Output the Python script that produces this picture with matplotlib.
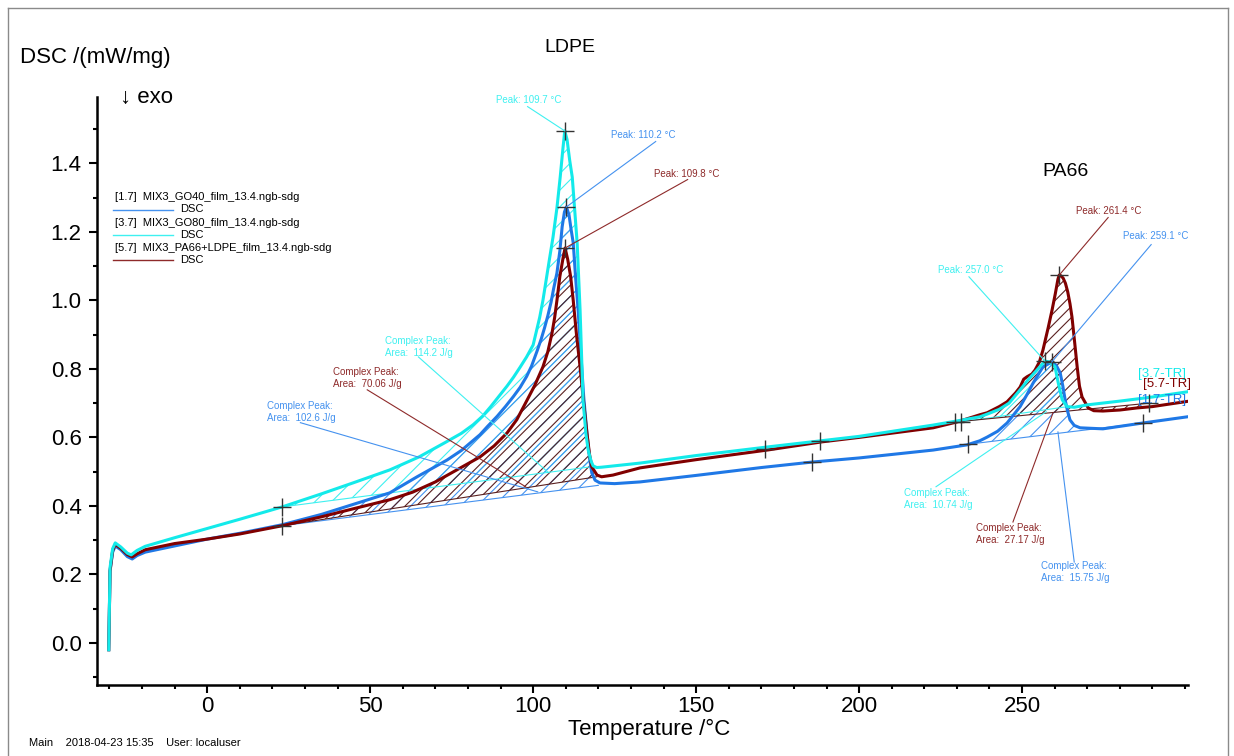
import numpy as np
import matplotlib.pyplot as plt
from matplotlib.lines import Line2D
from matplotlib.ticker import MultipleLocator

plt.rcParams['font.family'] = ['Liberation Sans', 'DejaVu Sans']
plt.rcParams['hatch.linewidth'] = 0.8

#%% data: temperature /°C and DSC /(mW/mg)
t_go40 = [-30.2, -29.8, -29.0, -28.2, -26.5, -24.5, -23.0, -21.5, -19.0, -10, 0, 10, 23, 35, 45, 56,
          64.4, 73.6, 78, 83.7, 86, 89, 91.5, 94, 96, 98, 99.5, 101.2, 102.5, 103.5, 104.5, 105.5,
          106.3, 107.3, 108.2, 108.9, 109.6, 110.2, 111, 111.6, 112.3, 113, 113.8, 114.6, 115.5,
          116.5, 117.3, 118, 119, 120.5, 125, 132.8, 150, 170, 185.6, 200, 222.7, 233, 237, 239.3,
          242.5, 245.4, 249.4, 251.5, 253.4, 256.4, 259.1, 260.5, 261.7, 262.5, 263.2, 264, 264.7,
          266, 267.8, 274.8, 287, 300.6]
dsc_go40 = [-0.02, 0.21, 0.265, 0.283, 0.272, 0.252, 0.245, 0.255, 0.265, 0.283, 0.303, 0.32, 0.345,
            0.375, 0.405, 0.438, 0.485, 0.534, 0.562, 0.608, 0.632, 0.662, 0.69, 0.72, 0.746, 0.778,
            0.808, 0.852, 0.888, 0.92, 0.955, 0.995, 1.035, 1.08, 1.145, 1.215, 1.258, 1.273, 1.25,
            1.21, 1.168, 1.07, 0.972, 0.85, 0.72, 0.613, 0.54, 0.496, 0.475, 0.467, 0.465, 0.47,
            0.489, 0.512, 0.528, 0.54, 0.563, 0.578, 0.59, 0.601, 0.618, 0.642, 0.69, 0.725, 0.759,
            0.806, 0.82, 0.81, 0.788, 0.75, 0.71, 0.675, 0.651, 0.635, 0.628, 0.625, 0.642, 0.66]

t_go80 = [-30.2, -29.8, -29.0, -28.2, -26.5, -24.5, -23.3, -21.5, -19.0, -10, 0, 10, 23, 35, 45, 56,
          65, 73, 78, 81.6, 84.5, 87, 89.5, 92, 94, 96, 98, 100, 101, 102, 103, 104, 105, 106.1,
          107.3, 108.3, 109.1, 109.7, 110.4, 111.2, 112, 113.5, 114.4, 115.3, 116.2, 116.9, 117.8,
          118.4, 119.5, 121, 132.8, 150, 171.8, 200, 222.7, 230, 237, 239.3, 243, 246, 249.4, 252,
          254.6, 257, 258.5, 260.1, 261.1, 262.3, 263.8, 266, 270, 280, 290, 300.6]
dsc_go80 = [-0.02, 0.22, 0.275, 0.292, 0.28, 0.262, 0.257, 0.27, 0.282, 0.307, 0.334, 0.361, 0.397,
            0.435, 0.468, 0.505, 0.543, 0.585, 0.612, 0.637, 0.662, 0.69, 0.72, 0.75, 0.776,
            0.805, 0.835, 0.87, 0.91, 0.95, 1.0, 1.06, 1.12, 1.185, 1.27, 1.36, 1.44, 1.495,
            1.47, 1.41, 1.36, 1.168, 0.972, 0.71, 0.61, 0.563, 0.53, 0.517, 0.512, 0.513, 0.525,
            0.547, 0.572, 0.603, 0.636, 0.648, 0.66, 0.668, 0.682, 0.70, 0.739, 0.77, 0.797, 0.823,
            0.82, 0.806, 0.759, 0.71, 0.69, 0.688, 0.695, 0.706, 0.718, 0.733]

t_mix = [-30.2, -29.8, -29.0, -28.2, -26.5, -24.5, -23.0, -21.5, -19.0, -10, 0, 10, 23, 35, 45, 56,
         63, 70, 76, 83.7, 88, 92, 95, 98.2, 100.5, 103, 104.5, 105.8, 106.6, 107.3, 108.2, 109.2,
         109.8, 110.6, 111.5, 112.3, 113.3, 114.4, 115.5, 116.5, 117.3, 118, 119.6, 121, 124.5,
         132.8, 150, 171.8, 188.6, 200, 222.7, 230, 237, 239.3, 243, 245.4, 248, 249.4, 250.5,
         251.5, 253, 254, 255.3, 256.4, 258, 259.2, 260.2, 261.0, 261.4, 261.9, 262.6, 263.3, 264,
         264.7, 265.3, 266.1, 266.9, 267.6, 268.4, 270.3, 272, 274.8, 280, 285.2, 290, 300.6]
dsc_mix = [-0.02, 0.21, 0.27, 0.288, 0.276, 0.258, 0.251, 0.26, 0.272, 0.29, 0.303, 0.318, 0.342,
           0.368, 0.392, 0.418, 0.44, 0.47, 0.502, 0.543, 0.575, 0.613, 0.652, 0.71, 0.752, 0.806,
           0.85, 0.905, 0.95, 1.0, 1.07, 1.125, 1.153, 1.12, 1.07, 1.0, 0.9, 0.806, 0.70, 0.613,
           0.55, 0.514, 0.49, 0.485, 0.49, 0.511, 0.535, 0.563, 0.587, 0.60, 0.628, 0.645, 0.666,
           0.672, 0.69, 0.704, 0.73, 0.747, 0.77, 0.777, 0.785, 0.797, 0.82, 0.855, 0.92, 0.972,
           1.02, 1.062, 1.074, 1.072, 1.065, 1.05, 1.025, 0.99, 0.952, 0.88, 0.806, 0.75, 0.718,
           0.686, 0.678, 0.677, 0.68, 0.686, 0.69, 0.705]

# integration limits (T1, DSC1, T2, DSC2) of the complex peaks
base_go40 = [(23, 0.342, 120.0, 0.46), (233.5, 0.58, 287, 0.642)]
base_go80 = [(23, 0.397, 118.4, 0.515), (231.2, 0.645, 264, 0.69)]
base_mix = [(23, 0.342, 119.5, 0.485), (229.5, 0.645, 289, 0.70)]

cross_t = [109.7, 110.2, 109.8, 257.0, 259.1, 261.4, 23, 23, 171.0, 188.0, 185.6, 229.5, 231.2, 233.5, 287, 289]
cross_v = [1.495, 1.273, 1.153, 0.823, 0.82, 1.074, 0.397, 0.342, 0.566, 0.59, 0.528, 0.645, 0.645, 0.58, 0.642, 0.70]

files = ['[1.7]  MIX3_GO40_film_13.4.ngb-sdg', '[3.7]  MIX3_GO80_film_13.4.ngb-sdg',
         '[5.7]  MIX3_PA66+LDPE_film_13.4.ngb-sdg']

c_blue, c_cyan, c_red = '#1f78e6', '#13eaea', '#800000'
l_blue, l_cyan, l_red = '#4592ef', '#3ff0f0', '#8e2a2a'

#%%
fig = plt.figure(figsize=(12.34, 7.56), dpi=100)
ax = fig.add_axes([97/1234, 71/756, 1091/1234, 588/756])


def hatch_area(t, v, lims, col, hatch):
    t = np.asarray(t)
    v = np.asarray(v)
    for t1, b1, t2, b2 in lims:
        m = (t > t1) & (t < t2)
        xs = np.concatenate([[t1], t[m], [t2]])
        ys = np.concatenate([[b1], v[m], [b2]])
        ax.fill(xs, ys, facecolor='none', edgecolor=col, hatch=hatch, linewidth=0)
        ax.plot([t1, t2], [b1, b2], color=col, lw=0.8)


hatch_area(t_go80, dsc_go80, base_go80, l_cyan, '//')
hatch_area(t_go40, dsc_go40, base_go40, l_blue, '//')
hatch_area(t_mix, dsc_mix, base_mix, '#5a2020', '///')

ax.plot(t_go40, dsc_go40, color=c_blue, lw=2.2)
ax.plot(t_mix, dsc_mix, color=c_red, lw=2.2)
ax.plot(t_go80, dsc_go80, color=c_cyan, lw=2.2)

ax.plot(cross_t, cross_v, '+', color='#333333', ms=13, mew=1)

# annotations: text position, leader start, leader end
peaks = [('Peak: 109.7 °C', 88.5, 1.586, 98.3, 1.566, 109.7, 1.495, l_cyan),
         ('Peak: 110.2 °C', 123.8, 1.484, 137.6, 1.464, 110.2, 1.273, l_blue),
         ('Peak: 109.8 °C', 137.0, 1.370, 147.4, 1.353, 109.8, 1.153, l_red),
         ('Peak: 261.4 °C', 266.6, 1.262, 276.4, 1.242, 261.4, 1.074, l_red),
         ('Peak: 259.1 °C', 281.0, 1.189, 289.6, 1.163, 259.1, 0.82, l_blue),
         ('Peak: 257.0 °C', 224.2, 1.090, 233.7, 1.069, 257.0, 0.823, l_cyan)]
areas = [('114.2', 54.7, 0.863, 64.8, 0.835, 104.7, 0.497, l_cyan),
         ('70.06', 38.7, 0.774, 49.1, 0.739, 97.7, 0.456, l_red),
         ('102.6', 18.4, 0.673, 28.6, 0.643, 101.4, 0.441, l_blue),
         ('10.74', 213.8, 0.420, 223.6, 0.456, 257.4, 0.675, l_cyan),
         ('27.17', 235.9, 0.318, 247.2, 0.353, 259.5, 0.672, l_red),
         ('15.75', 255.8, 0.207, 266.0, 0.236, 261.0, 0.616, l_blue)]
for s, tx, ty, x0, y0, x1, y1, col in peaks:
    ax.plot([x0, x1], [y0, y1], color=col, lw=0.8)
    ax.text(tx, ty, s, color=col, fontsize=7, va='center')
for s, tx, ty, x0, y0, x1, y1, col in areas:
    ax.plot([x0, x1], [y0, y1], color=col, lw=0.8)
    ax.text(tx, ty, 'Complex Peak:\nArea:  ' + s + ' J/g', color=col, fontsize=7,
            va='center', linespacing=1.25)

ax.text(285.6, 0.786, '[3.7-TR]', color=c_cyan, fontsize=9.5, va='center')
ax.text(287.2, 0.757, '[5.7-TR]', color=c_red, fontsize=9.5, va='center')
ax.text(285.6, 0.710, '[1.7-TR]', color=c_blue, fontsize=9.5, va='center')

ax.set_xlim(-33.8, 300.9)
ax.set_ylim(-0.123, 1.594)
ax.xaxis.set_minor_locator(MultipleLocator(10))
ax.yaxis.set_minor_locator(MultipleLocator(0.1))
ax.set_yticks(np.arange(0, 1.41, 0.2))
ax.set_yticklabels(['%.1f' % y for y in np.arange(0, 1.41, 0.2)])
ax.set_xticks(np.arange(0, 251, 50))
ax.tick_params(labelsize=16, width=1.5, length=6, pad=5)
ax.tick_params(which='minor', width=1.5, length=3)
ax.tick_params(axis='x', pad=2)
for sp in ['top', 'right']:
    ax.spines[sp].set_visible(False)
for sp in ['left', 'bottom']:
    ax.spines[sp].set_linewidth(1.8)
ax.patch.set_alpha(0)

# legend
for i, (name, col) in enumerate(zip(files, [l_blue, l_cyan, l_red])):
    y0 = 197 + 25.5 * i
    fig.text(115/1234, 1 - y0/756, name, fontsize=8, va='center')
    fig.add_artist(Line2D([113/1234, 173/1234], [1 - (y0 + 12.5)/756] * 2, color=col, lw=1))
    fig.text(180/1234, 1 - (y0 + 12.5)/756, 'DSC', fontsize=8, va='center')

fig.text(20/1234, 1 - 58/756, 'DSC /(mW/mg)', fontsize=16, va='center')
fig.text(120/1234, 1 - 97/756, '↓ exo', fontsize=16, va='center')
fig.text(570/1234, 1 - 47/756, 'LDPE', fontsize=14, ha='center', va='center')
fig.text(1065/1234, 1 - 172/756, 'PA66', fontsize=14, ha='center', va='center')
fig.text(649/1234, 1 - 729/756, 'Temperature /°C', fontsize=16, ha='center', va='center')
fig.text(29/1234, 1 - 743/756, 'Main    2018-04-23 15:35    User: localuser', fontsize=8, va='center')

# page frame
fr = dict(color='#8a8a8a', lw=1)
fig.add_artist(Line2D([8/1234, 8/1234], [0, 1 - 8/756], **fr))
fig.add_artist(Line2D([8/1234, 1228/1234], [1 - 8/756] * 2, **fr))
fig.add_artist(Line2D([1228/1234, 1228/1234], [0, 1 - 8/756], **fr))

fig.savefig('out.png', dpi=100)
